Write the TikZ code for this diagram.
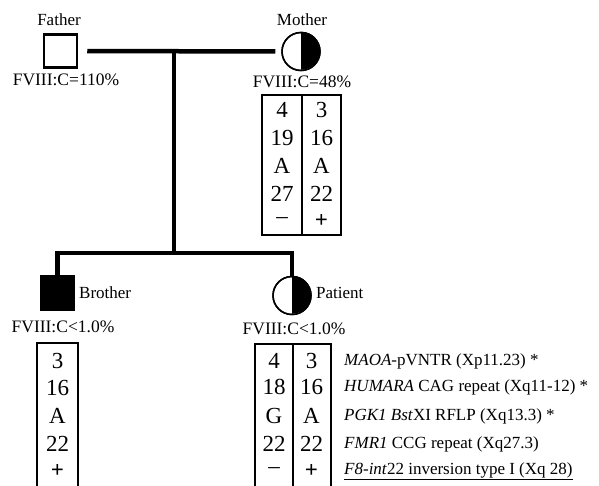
\documentclass[tikz,border=0pt]{standalone}
\usepackage{fontspec}
\setmainfont{Liberation Serif}
\begin{document}
\begin{tikzpicture}[x=1pt,y=1pt,
  sq/.style={draw, line width=2.5pt, minimum size=33pt, inner sep=0pt},
  ci/.style={circle, draw, line width=1.5pt, minimum size=38pt, inner sep=0pt},
  nm/.style={font=\fontsize{17}{17}\selectfont, inner sep=0pt},
  fv/.style={font=\fontsize{17.5}{18}\selectfont, inner sep=0pt},
  cell/.style={font=\fontsize{23}{23}\selectfont, inner sep=0pt},
  lab/.style={font=\fontsize{17}{17}\selectfont, inner sep=0pt, anchor=west},
  tb/.style={line width=1.3pt},
  link/.style={line width=4.5pt}]
\useasboundingbox (0,0) rectangle (599,-485);

% individuals
\node[sq] (fa) at (60.5,-51) {};
\node[nm] (faname) at (59,-20) {Father};
\node[fv] (fafv) at (66,-80) {FVIII:C=110\%};

\node[ci] (mo) at (301,-51.5) {};
\fill (mo.north) arc[start angle=90,end angle=-90,radius=19] -- cycle;
\node[ci] at (mo) {};
\node[nm] (moname) at (302,-20) {Mother};
\node[fv] (mofv) at (302,-82) {FVIII:C=48\%};

\node[sq, fill=black] (br) at (57.5,-293) {};
\node[nm, anchor=west] (brname) at (79,-293) {Brother};
\node[fv] (brfv) at (63,-327) {FVIII:C<1.0\%};

\node[ci] (pa) at (292,-295.5) {};
\fill (pa.north) arc[start angle=90,end angle=-90,radius=19] -- cycle;
\node[ci] at (pa) {};
\node[nm, anchor=west] (paname) at (316,-293) {Patient};
\node[fv] (pafv) at (294,-329) {FVIII:C<1.0\%};

% connectors
\draw[link, shorten <=9pt, shorten >=6pt] (fa.east) -- (mo.west);
\coordinate (mid) at (174,-51.5);
\coordinate (sib) at (174,-253);
\draw[link] (mid) -- (sib);
\draw[link, line join=miter] (br.north) |- (sib) -| (pa.north);

% mother table
\draw[tb] (262,-95) rectangle (341,-235);
\draw[tb] (302,-95) -- (302,-235);
\foreach \a/\b/\y in {4/3/110, 19/16/138, A/A/166, 27/22/194, {–}/{\textbf{+}}/221}{
  \node[cell] at (282,-\y) {\a};
  \node[cell] at (321.5,-\y) {\b};
}

% brother table
\draw[tb] (37,-486) -- (37,-343) -- (78,-343) -- (78,-486);
\foreach \a/\y in {3/361, 16/388, A/416, 22/444, {\textbf{+}}/471}{
  \node[cell] at (57.5,-\y) {\a};
}

% patient table
\draw[tb] (255,-486) -- (255,-344) -- (331,-344) -- (331,-486);
\draw[tb] (293,-344) -- (293,-486);
\foreach \a/\b/\y in {4/3/361, 18/16/387, G/A/416, 22/22/444, {–}/{\textbf{+}}/471}{
  \node[cell] at (274,-\y) {\a};
  \node[cell] at (311.5,-\y) {\b};
}

% marker labels
\node[lab] at (344,-361) {\textit{MAOA}-pVNTR (Xp11.23) *};
\node[lab] at (344,-387) {\textit{HUMARA} CAG repeat (Xq11-12) *};
\node[lab] at (344,-416) {\textit{PGK1 Bst}XI RFLP (Xq13.3) *};
\node[lab] at (344,-444) {\textit{FMR1} CCG repeat (Xq27.3)};
\node[lab] at (344,-471) {\underline{\textit{F8-int}22 inversion type I (Xq 28)}};
\end{tikzpicture}
\end{document}
